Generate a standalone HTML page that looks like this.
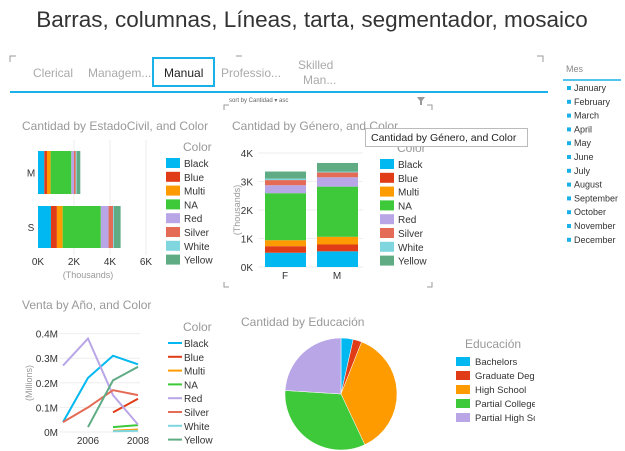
<!DOCTYPE html>
<html><head><meta charset="utf-8">
<style>
body{margin:0;width:625px;height:451px;background:#fff;overflow:hidden;font-family:"Liberation Sans",sans-serif}
svg{position:absolute;left:0;top:0}
text{font-family:"Liberation Sans",sans-serif}
</style></head>
<body>
<svg id="s" width="625" height="451">
<defs><clipPath id="pieclip"><rect x="440" y="330" width="95" height="100"/></clipPath></defs>
<text x="312" y="27" text-anchor="middle" font-size="22.5" fill="#333">Barras, columnas, Líneas, tarta, segmentador, mosaico</text>
<g>
<path d="M10 62V56H16M537 56H543V62M236 56H242" stroke="#999" fill="none"/>
<text x="33" y="77" font-size="12" fill="#aaa">Clerical</text>
<text x="88" y="77" font-size="12" fill="#aaa">Managem...</text>
<rect x="153" y="58" width="61" height="28" fill="#fff" stroke="#1ab0e8" stroke-width="2"/>
<text x="164" y="77" font-size="12" fill="#222">Manual</text>
<text x="221" y="77" font-size="12" fill="#aaa">Professio...</text>
<text x="298" y="69" font-size="12" fill="#aaa">Skilled</text>
<text x="303" y="84" font-size="12" fill="#aaa">Man...</text>
<line x1="10" y1="92" x2="548" y2="92" stroke="#1ab0e8" stroke-width="2"/>
</g>
<text x="229" y="102" font-size="6" fill="#666">sort by  Cantidad  ▾ asc</text>
<path d="M417 97h8l-3 4v4h-2v-4z" fill="#999"/>
<path d="M224 110v-5h5M427 105h5v5M224 282v5h5M427 287h5v-5" stroke="#999" fill="none"/>
<g>
<text x="566" y="72" font-size="9" fill="#888">Mes</text>
<line x1="563" y1="80" x2="621" y2="80" stroke="#1ab0e8" stroke-width="1.5"/>
<g id="months"></g>
</g>
<text x="22" y="130" font-size="12" fill="#999">Cantidad by EstadoCivil, and Color</text>
<text x="232" y="130" font-size="12" fill="#999">Cantidad by Género, and Color</text>
<text x="22" y="309" font-size="12" fill="#999">Venta by Año, and Color</text>
<text x="241" y="326" font-size="12" fill="#999">Cantidad by Educación</text>
<g id="bar"></g><g id="col"></g><g id="line"></g><g id="pie"></g>
<g>
<rect x="365.5" y="128.5" width="162" height="18" fill="#fff" stroke="#bbb"/>
<text x="371" y="141" font-size="10.5" fill="#222">Cantidad by Género, and Color</text>
</g>
</svg>
<script>
const colorNames=["Black","Blue","Multi","NA","Red","Silver","White","Yellow"];
const colorHex=["#01b8f0","#e03c18","#fd9b00","#3ec93a","#b9a6e6","#e46c56","#7fd6df","#5fac84"];
const barCats=["M","S"];
const barM=[0.35,0.15,0.2,1.15,0.15,0.1,0.05,0.2];
const barS=[0.72,0.33,0.32,2.12,0.43,0.25,0.05,0.37];
const barTicks=[0,2,4,6];
const colCats=["F","M"];
const colF=[0.5,0.23,0.21,1.65,0.28,0.18,0.05,0.25];
const colM=[0.55,0.24,0.27,1.76,0.33,0.17,0.03,0.3];
const colTicks=[0,1,2,3,4];
const years=[2005,2006,2007,2008];
const lineBlack=[0.04,0.22,0.31,0.275];
const lineBlue=[null,null,0.08,0.135];
const lineMulti=[null,null,0.005,0.01];
const lineNA=[null,null,0.02,0.028];
const lineRed=[0.27,0.38,0.15,0.03];
const lineSilver=[0.04,0.10,0.17,0.15];
const lineWhite=[null,null,0.003,0.005];
const lineYellow=[null,0.02,0.21,0.265];
const lineTicks=[0,0.1,0.2,0.3,0.4];
const yearTicks=[2006,2008];
const eduNames=["Bachelors","Graduate Degree","High School","Partial College","Partial High School"];
const eduValues=[3.5,2.5,37,33,24];
const eduHex=["#01b8f0","#e03c18","#fd9b00","#3ec93a","#b9a6e6"];
const months=["January","February","March","April","May","June","July","August","September","October","November","December"];
const NS="http://www.w3.org/2000/svg";
function mk(p,t,a,txt){const e=document.createElementNS(NS,t);for(const k in a)e.setAttribute(k,a[k]);if(txt!==undefined)e.textContent=txt;p.appendChild(e);return e;}
const mg=document.getElementById('months');
months.forEach((m,i)=>{const y=90+i*13.8;
const r=mk(mg,'rect',{x:567,y:y-4,width:4,height:4,fill:'#1ab0e8'});


mk(mg,'text',{x:574,y:y+1,'font-size':9,fill:'#333'},m);});
function legend(g,x,y,title,names,cols,line){
mk(g,'text',{x:x+9,y:y,'font-size':12,fill:'#999'},title);
names.forEach((n,i)=>{const yy=y+15+i*13.8;
let s;
if(line)s=mk(g,'line',{x1:x-6,x2:x+8,y1:yy-3,y2:yy-3,stroke:cols[i],'stroke-width':2});
else s=mk(g,'rect',{x:x-8,y:yy-8,width:14,height:10,fill:cols[i]});


mk(g,'text',{x:x+10,y:yy+1,'font-size':10,fill:'#333'},n);});}
(function(){const g=document.getElementById('bar');
const xs=v=>38+v*18;const rows=[barM,barS];const ys=[151,206];const h=[43,42];
barTicks.forEach(t=>{if(t>0)mk(g,'line',{x1:xs(t),x2:xs(t),y1:140,y2:255,stroke:'#eee'});
mk(g,'text',{x:xs(t),y:265,'font-size':10,fill:'#333','text-anchor':'middle'},t+'K');});
mk(g,'text',{x:88,y:278,'font-size':9,fill:'#999','text-anchor':'middle'},'(Thousands)');
rows.forEach((r,ri)=>{let acc=0;mk(g,'text',{x:31,y:ys[ri]+h[ri]/2+4,'font-size':10,fill:'#333','text-anchor':'middle'},barCats[ri]);
r.forEach((v,i)=>{const b=mk(g,'rect',{x:xs(acc),y:ys[ri],width:v*18,height:h[ri],fill:colorHex[i]});

acc+=v;});});
legend(g,174,151,'Color',colorNames,colorHex,false);})();
(function(){const g=document.getElementById('col');
const ys=v=>267-v*28.5;const xs=[265,317];
colTicks.forEach(t=>{mk(g,'line',{x1:258,x2:363,y1:ys(t),y2:ys(t),stroke:'#eee'});
mk(g,'text',{x:253,y:ys(t)+4,'font-size':10,fill:'#333','text-anchor':'end'},t+'K');});
mk(g,'text',{x:240,y:210,'font-size':9,fill:'#999','text-anchor':'middle',transform:'rotate(-90 240 210)'},'(Thousands)');
[colF,colM].forEach((r,ri)=>{let acc=0;mk(g,'text',{x:xs[ri]+20,y:279,'font-size':10,fill:'#333','text-anchor':'middle'},colCats[ri]);
r.forEach((v,i)=>{const b=mk(g,'rect',{x:xs[ri],y:ys(acc+v),width:41,height:v*28.5,fill:colorHex[i]});

acc+=v;});});
legend(g,388,152,'Color',colorNames,colorHex,false);})();
(function(){const g=document.getElementById('line');
const ys=v=>432-v*246;const xs=yr=>63+(yr-2005)*25;
lineTicks.forEach(t=>{mk(g,'line',{x1:60,x2:140,y1:ys(t),y2:ys(t),stroke:'#eee'});
mk(g,'text',{x:58,y:ys(t)+4,'font-size':10,fill:'#333','text-anchor':'end'},t===0?'0M':t+'M');});
yearTicks.forEach(t=>mk(g,'text',{x:xs(t),y:444,'font-size':10,fill:'#333','text-anchor':'middle'},String(t)));
mk(g,'text',{x:32,y:383,'font-size':9,fill:'#999','text-anchor':'middle',transform:'rotate(-90 32 383)'},'(Millions)');
const series=[lineBlack,lineBlue,lineMulti,lineNA,lineRed,lineSilver,lineWhite,lineYellow];
series.forEach((s,i)=>{let d='';let pen=false;s.forEach((v,j)=>{if(v===null){pen=false;return;}d+=(pen?'L':'M')+xs(years[j])+' '+ys(v);pen=true;});
const p=mk(g,'path',{d:d,fill:'none',stroke:colorHex[i],'stroke-width':2});

});
legend(g,174,331,'Color',colorNames,colorHex,true);})();
(function(){const g=document.getElementById('pie');const cx=341,cy=394,r=56;
const tot=eduValues.reduce((a,b)=>a+b,0);let a0=0;
eduValues.forEach((v,i)=>{const a1=a0+v/tot*2*Math.PI;
const x0=cx+r*Math.sin(a0),y0=cy-r*Math.cos(a0),x1=cx+r*Math.sin(a1),y1=cy-r*Math.cos(a1);
const p=mk(g,'path',{d:`M${cx} ${cy}L${x0} ${y0}A${r} ${r} 0 ${a1-a0>Math.PI?1:0} 1 ${x1} ${y1}Z`,fill:eduHex[i],stroke:'#fff','stroke-width':0.5});

a0=a1;});
mk(g,'text',{x:465,y:348,'font-size':12,fill:'#999'},'Educación');
const lg=mk(g,'g',{'clip-path':'url(#pieclip)'});
eduNames.forEach((n,i)=>{const y=364+i*14;
const s=mk(lg,'rect',{x:456,y:y-7,width:14,height:9,fill:eduHex[i]});


mk(lg,'text',{x:475,y:y+1,'font-size':9.5,fill:'#333'},n);});})();
</script>
</body></html>
